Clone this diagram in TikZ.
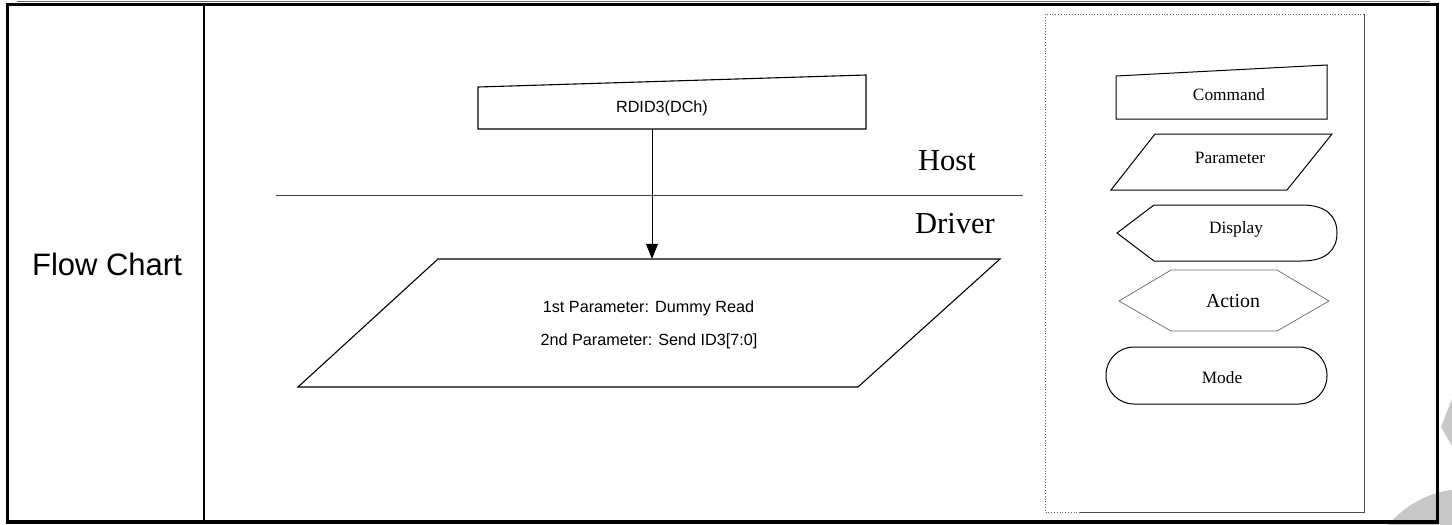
\documentclass[tikz,border=0pt]{standalone}
\usepackage{fontspec}
\setmainfont{Liberation Serif}
\newfontfamily\sansf{Liberation Sans}
\usetikzlibrary{arrows.meta}
\begin{document}
\begin{tikzpicture}[x=1pt,y=-1pt,
  mainshape/.style={draw=black, line width=1.1pt, line join=miter},
  legshape/.style={draw=black, line width=1pt},
  smalltxt/.style={font=\sansf\fontsize{16.2}{19}\selectfont, inner sep=0pt, anchor=base},
  legtxt/.style={font=\fontsize{17.3}{20}\selectfont, inner sep=0pt, anchor=base},
  bigserif/.style={font=\fontsize{30.5}{36}\selectfont, inner sep=0pt, anchor=base},
  ghost/.style={inner sep=0pt, draw=none}]
\useasboundingbox (0,0) rectangle (1452,525);
% watermark
\fill[black!22] (1388,525) .. controls (1405,505) and (1430,492) .. (1452,490) -- (1452,525) -- cycle;
\fill[black!22] (1441,427) -- (1452,399) -- (1452,446) -- cycle;
% frame
\draw[black!60, line width=0.8pt] (17,1) -- (1430,1);
\draw[line width=3.5pt] (7.5,4.5) rectangle (1437.5,522);
\draw[line width=2pt] (204,4.5) -- (204,522);
\node[font=\sansf\fontsize{31}{36}\selectfont, inner sep=0pt, anchor=base] (fc) at (107,275) {Flow Chart};
% host / driver
\draw[black!75, line width=0.8pt] (276,195) -- (1023,195);
\node[bigserif] (host) at (947,170) {Host};
\node[bigserif] (driver) at (955,233) {Driver};
% command
\draw[mainshape] (478,87) -- (866,75) -- (866,129) -- (478,129) -- cycle;
\node[ghost, minimum width=388pt, minimum height=42pt] (cmd) at (652,108) {};
\node[smalltxt] (cmdtxt) at (662,112.5) {RDID3(DCh)};
% parameter
\draw[mainshape] (438,259) -- (1000,259) -- (858,387) -- (298,387) -- cycle;
\node[ghost, minimum width=400pt, minimum height=128pt] (par) at (649,323) {};
\node[smalltxt] (p1) at (648.5,312) {1st Parameter: Dummy Read};
\node[smalltxt] (p2) at (649,345) {2nd Parameter: Send ID3[7:0]};
\draw[line width=0.7pt, -{Triangle[length=15pt,width=12pt]}] (cmd.south) -- (cmd.south |- par.north);
% legend
\draw[dotted, black!60, line width=0.8pt] (1364,14) -- (1045,14) -- (1045,512) -- (1080,512);
\draw[black!70, line width=0.7pt] (1080,512) -- (1364,512) -- (1364,14);
\draw[legshape] (1116,76) -- (1327,65) -- (1327,119) -- (1116,119) -- cycle;
\node[legtxt] (lcmd) at (1229,100) {Command};
\draw[legshape] (1155,134) -- (1332,134) -- (1287,190) -- (1111,190) -- cycle;
\node[legtxt] (lpar) at (1230,163) {Parameter};
\draw[legshape] (1117,233) -- (1154,205) -- (1302,205) .. controls (1326,205) and (1337,216) .. (1337,233) .. controls (1337,250) and (1326,261) .. (1302,261) -- (1154,261) -- cycle;
\node[legtxt] (ldis) at (1236,233) {Display};
\draw[black!60, line width=0.7pt] (1119,301) -- (1171,270) -- (1277,270) -- (1329,301) -- (1277,331) -- (1171,331) -- cycle;
\node[legtxt, font=\fontsize{19.8}{23}\selectfont] (lact) at (1233,307) {Action};
\draw[legshape, rounded corners=28pt] (1106,347) rectangle (1327,404);
\node[legtxt] (lmode) at (1222,383) {Mode};
\end{tikzpicture}
\end{document}
